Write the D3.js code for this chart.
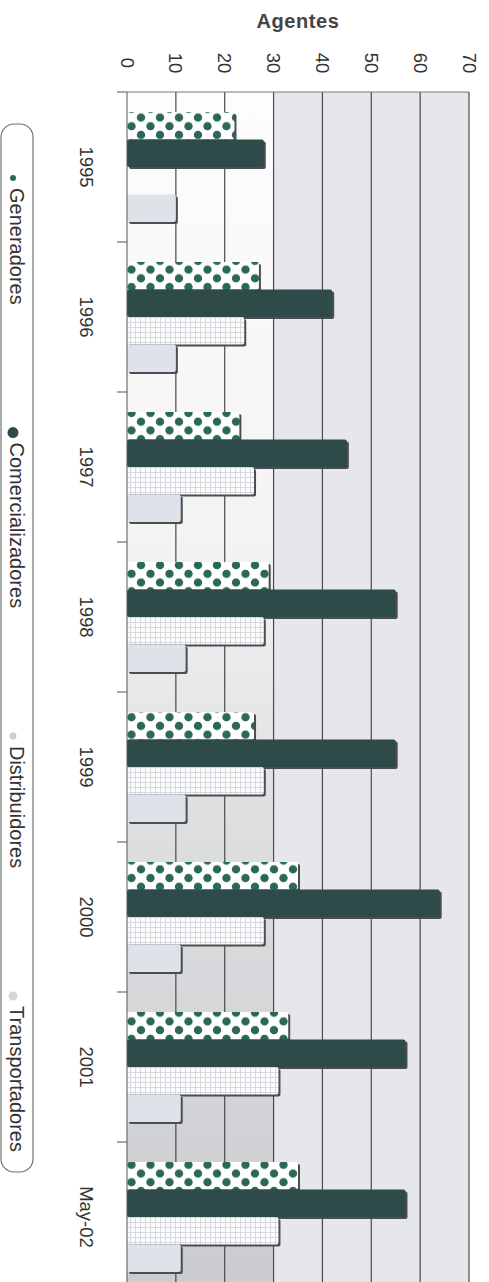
<!DOCTYPE html>
<html>
<head>
<meta charset="utf-8">
<script src="https://cdn.jsdelivr.net/npm/d3@7"></script>
<style>
  body { margin: 0; background: #fff; }
  svg { display: block; font-family: "Liberation Sans", Arial, sans-serif; }
</style>
</head>
<body>
<div class="chart"></div>
<script>
const categories = ["1995", "1996", "1997", "1998", "1999", "2000", "2001", "May-02"];
const seriesNames = ["Generadores", "Comercializadores", "Distribuidores", "Transportadores"];
const generadores = [22, 27, 23, 29, 26, 35, 33, 35];
const comercializadores = [28, 42, 45, 55, 55, 64, 57, 57];
const distribuidores = [null, 24, 26, 28, 28, 28, 31, 31];
const transportadores = [10, 10, 11, 12, 12, 11, 11, 11];
const valueTicks = [0, 10, 20, 30, 40, 50, 60, 70];

const seriesValues = [generadores, comercializadores, distribuidores, transportadores];

const width = 489, height = 1282;

const svg = d3.select(".chart")
  .append("svg")
    .attr("width", width)
    .attr("height", height);

const defs = svg.append("defs");

const x = d3.scaleLinear().domain([0, 70]).range([127, 469]);
const y = d3.scaleBand().domain(categories).range([92, 92 + 150 * categories.length]);
const ySub = d3.scaleBand().domain(seriesNames).range([20, 130]);

// background gradient for the low-value part of the plot
const grad = defs.append("linearGradient")
    .attr("id", "leftGrad")
    .attr("x1", 0).attr("y1", 0).attr("x2", 0).attr("y2", 1);
grad.append("stop").attr("offset", "0%").attr("stop-color", "#fdfdfd");
grad.append("stop").attr("offset", "38%").attr("stop-color", "#f3f3f4");
grad.append("stop").attr("offset", "62%").attr("stop-color", "#dddee0");
grad.append("stop").attr("offset", "100%").attr("stop-color", "#cbcccf");

// pattern for Distribuidores (fine grid)
const grid = defs.append("pattern")
    .attr("id", "gridPat")
    .attr("patternUnits", "userSpaceOnUse")
    .attr("width", 5).attr("height", 5);
grid.append("rect").attr("width", 5).attr("height", 5).attr("fill", "#fcfcfd");
grid.append("path")
    .attr("d", "M0,0.5H5M0.5,0V5")
    .attr("stroke", "#cdd1d6")
    .attr("stroke-width", 0.8);

// dotted pattern for Generadores, one per category so the rows line up with each bar
defs.selectAll("pattern.dots")
  .data(categories)
  .join("pattern")
    .attr("class", "dots")
    .attr("id", (d, i) => "dots" + i)
    .attr("patternUnits", "userSpaceOnUse")
    .attr("x", x(0) - 5)
    .attr("y", d => y(d) + ySub("Generadores") + 0.5)
    .attr("width", 19).attr("height", 17.4)
    .each(function() {
      const p = d3.select(this);
      p.append("rect").attr("width", 19).attr("height", 17.4).attr("fill", "#ffffff");
      [[0, 0], [19, 0], [9.5, 8.7], [0, 17.4], [19, 17.4]].forEach(c => {
        p.append("circle").attr("cx", c[0]).attr("cy", c[1]).attr("r", 4.2).attr("fill", "#2b6858");
      });
    });

const fills = [
  (d, i) => `url(#dots${i})`,
  () => "#2f4b49",
  () => "url(#gridPat)",
  () => "#dde3e9"
];

// plot background
const plotBottom = height;
svg.append("rect")
    .attr("x", x(0)).attr("y", y.range()[0])
    .attr("width", x(70) - x(0)).attr("height", plotBottom - y.range()[0])
    .attr("fill", "#e5e7ea");
svg.append("rect")
    .attr("x", x(0)).attr("y", y.range()[0])
    .attr("width", x(30) - x(0)).attr("height", plotBottom - y.range()[0])
    .attr("fill", "url(#leftGrad)");

// gridlines
svg.append("g")
  .selectAll("line")
  .data(valueTicks.slice(1))
  .join("line")
    .attr("x1", d => x(d)).attr("x2", d => x(d))
    .attr("y1", y.range()[0]).attr("y2", plotBottom)
    .attr("stroke", "#4a4a4a")
    .attr("stroke-width", 1.2);

svg.append("line")
    .attr("x1", x(0)).attr("x2", x(70))
    .attr("y1", y.range()[0]).attr("y2", y.range()[0])
    .attr("stroke", "#777").attr("stroke-width", 1);

// bars
const rows = categories.map((c, i) => ({
  cat: c,
  i: i,
  bars: seriesNames.map((s, k) => ({ series: s, k: k, value: seriesValues[k][i], i: i, cat: c }))
    .filter(b => b.value != null)
}));

const groups = svg.append("g")
  .selectAll("g")
  .data(rows)
  .join("g")
    .attr("transform", d => `translate(0,${y(d.cat)})`);

groups.selectAll("rect.shadow")
  .data(d => d.bars)
  .join("rect")
    .attr("class", "shadow")
    .attr("x", x(0) + 2)
    .attr("y", d => ySub(d.series) + 2)
    .attr("width", d => x(d.value) - x(0))
    .attr("height", ySub.bandwidth())
    .attr("rx", 2)
    .attr("fill", "#4b4d50");

groups.selectAll("rect.bar")
  .data(d => d.bars)
  .join("rect")
    .attr("class", "bar")
    .attr("x", x(0))
    .attr("y", d => ySub(d.series))
    .attr("width", d => x(d.value) - x(0))
    .attr("height", ySub.bandwidth())
    .attr("rx", 2)
    .attr("fill", d => fills[d.k](d, d.i));

// category axis (left)
svg.append("line")
    .attr("x1", x(0)).attr("x2", x(0))
    .attr("y1", y.range()[0]).attr("y2", plotBottom)
    .attr("stroke", "#555");

svg.append("g")
  .selectAll("line")
  .data(categories)
  .join("line")
    .attr("x1", x(0) - 10).attr("x2", x(0))
    .attr("y1", d => y(d)).attr("y2", d => y(d))
    .attr("stroke", "#555");

svg.append("g")
  .selectAll("text")
  .data(categories)
  .join("text")
    .attr("transform", d => `translate(86,${y(d) + y.bandwidth() / 2}) rotate(90)`)
    .attr("text-anchor", "middle")
    .attr("dominant-baseline", "central")
    .attr("font-size", 18.5)
    .attr("fill", "#333")
    .text(d => d);

// value axis (top)
svg.append("g")
  .selectAll("text")
  .data(valueTicks)
  .join("text")
    .attr("transform", d => `translate(${x(d)},63) rotate(90)`)
    .attr("text-anchor", "middle")
    .attr("dominant-baseline", "central")
    .attr("font-size", 18.5)
    .attr("fill", "#333")
    .text(d => d);

svg.append("text")
    .attr("x", 298)
    .attr("y", 28)
    .attr("text-anchor", "middle")
    .attr("font-size", 20)
    .attr("font-weight", "bold")
    .attr("letter-spacing", 0.6)
    .attr("fill", "#444")
    .text("Agentes");

// legend
const legend = svg.append("g");
legend.append("rect")
    .attr("x", 1).attr("y", 124)
    .attr("width", 32).attr("height", 1048)
    .attr("rx", 13)
    .attr("fill", "#fff")
    .attr("stroke", "#6f7775")
    .attr("stroke-width", 1.2);

const markerColors = ["#2b6858", "#2f4b49", "#c9cdd2", "#cfd6de"];
const markerR = [3, 5.5, 3.5, 4.5];
const legendStart = 174, legendEnd = 1152, markerGap = 14;

const items = legend.selectAll("g")
  .data(seriesNames)
  .join("g");

items.append("text")
    .attr("font-size", 20)
    .attr("fill", "#333")
    .attr("text-anchor", "start")
    .attr("dominant-baseline", "central")
    .text(d => d);

// items laid out with equal gaps between them
const itemLengths = [];
items.each(function() {
  itemLengths.push(markerGap + d3.select(this).select("text").node().getComputedTextLength());
});
const gap = (legendEnd - legendStart - d3.sum(itemLengths)) / (itemLengths.length - 1);

items.each(function(d, k) {
  const g = d3.select(this);
  const start = legendStart + d3.sum(itemLengths.slice(0, k)) + gap * k;
  g.insert("circle", "text")
    .attr("cx", 13)
    .attr("cy", start + 4)
    .attr("r", markerR[k])
    .attr("fill", markerColors[k]);
  g.select("text")
    .attr("transform", `translate(17,${start + markerGap}) rotate(90)`);
});
</script>
</body>
</html>
